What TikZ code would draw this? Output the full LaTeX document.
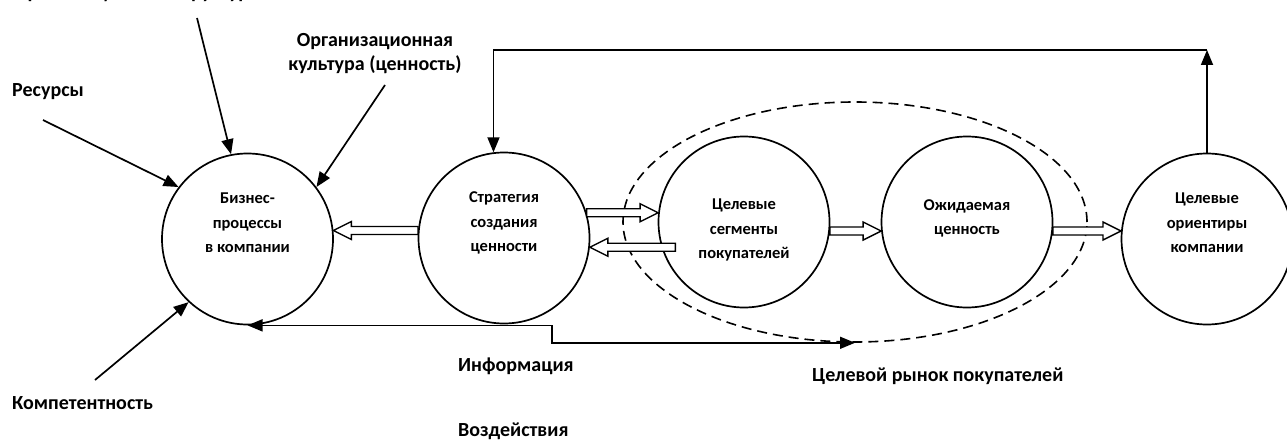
\documentclass[tikz,border=0pt]{standalone}
\usepackage{fontspec}
\setmainfont{Carlito}
\usetikzlibrary{arrows.meta,calc,shapes.geometric}
\tikzset{
  bub/.style={circle, draw, line width=1.7pt, minimum size=171pt, inner sep=0pt},
  ctext/.style={font=\bfseries\fontsize{16.5}{24.5}\selectfont, align=center, inner sep=0pt},
  lab/.style={font=\bfseries\fontsize{20}{24}\selectfont, align=center, inner sep=0pt},
  arr/.style={line width=1.7pt, -{Triangle[length=15pt,width=12pt]}},
  arrboth/.style={line width=1.7pt, {Triangle[length=15pt,width=12pt]}-{Triangle[length=15pt,width=12pt]}},
  harr/.style={line width=1.4pt, fill=white, line join=miter},
  dashell/.style={ellipse, draw, dash pattern=on 10pt off 6pt, line width=1.6pt, minimum width=464pt, minimum height=240pt, inner sep=0pt}
}
% hollow horizontal arrow: #1 start point, #2 tip point (y of start is used)
\newcommand\hollowarrow[2]{%
  \draw[harr] let \p1=(#1), \p2=(#2), \n1={ifthenelse(\x2>\x1,1,-1)}, \n2={\x2-\n1*18pt} in
    (\x1,{\y1-4pt}) -- (\n2,{\y1-4pt}) -- (\n2,{\y1-9pt}) -- (\x2,\y1)
    -- (\n2,{\y1+9pt}) -- (\n2,{\y1+4pt}) -- (\x1,{\y1+4pt}) -- cycle;}
\begin{document}
\begin{tikzpicture}[x=1pt,y=-1pt]
\useasboundingbox (0,0) rectangle (1287,441);

% dashed ellipse: target market
\node[dashell] (E) at (855,222) {};

% circles
\node[bub] (C1) at (247.5,239) {};
\node[bub] (C2) at (504,238) {};
\node[bub] (C3) at (744,222) {};
\node[bub] (C4) at (967,222) {};
\node[bub] (C5) at (1207,239) {};

\node[ctext] (T1) at ($(C1)+(0,-16)$) {Бизнес-\\процессы\\в компании};
\node[ctext] (T2) at ($(C2)+(0,-15)$) {Стратегия\\создания\\ценности};
\node[ctext] (T3) at ($(C3)+(0,8)$) {Целевые\\сегменты\\покупателей};
\node[ctext] (T4) at ($(C4)+(0,-3.5)$) {Ожидаемая\\ценность};
\node[ctext] (T5) at ($(C5)+(0,-16)$) {Целевые\\ориентиры\\компании};

% hollow arrows
\hollowarrow{C2.175}{C1.6}
\hollowarrow{C2.17}{C3.174}
\coordinate (a3s) at ($(C3.197)+(14,0)$);
\hollowarrow{a3s}{C2.-6}
\hollowarrow{C3.-6}{C4.186}
\hollowarrow{C4.-6}{C5.175}

% labels
\node[lab, anchor=west] (Lres) at (12,92) {Ресурсы};
\node[lab, anchor=west] (Lkom) at (12,403) {Компетентность};
\node[lab] (Lorg) at (375,54) {Организационная\\культура (ценность)};
\node[lab, anchor=west] (Linf) at (458,366) {Информация};
\node[lab, anchor=west] (Lvoz) at (458,431) {Воздействия};
\node[lab, anchor=west] (Lmar) at (812,376) {Целевой рынок покупателей};
\node[lab, anchor=base west] (Ltop) at (14,-1) {Организационная структура};

% input arrows
\coordinate (s1) at (43,120);
\coordinate (s2) at (197,18);
\coordinate (s3) at (385,85);
\coordinate (s4) at (95,380);
\draw[arr] (s1) -- (C1.143);
\draw[arr] (s2) -- (C1.101);
\draw[arr] (s3) -- (C1.37);
\draw[arr] (s4) -- (C1.227);

% feedback from goals to strategy
\coordinate (t1) at (1207,50);
\draw[arr] (C5.north) -- (t1);
\draw[arr] (t1) -- (t1 -| C2.97) -- (C2.97);

% information / influence line
\coordinate (kx) at (552,0);
\draw[arrboth] (C1.south) -- (C1.south -| kx) |- (E.south);
\end{tikzpicture}
\end{document}
